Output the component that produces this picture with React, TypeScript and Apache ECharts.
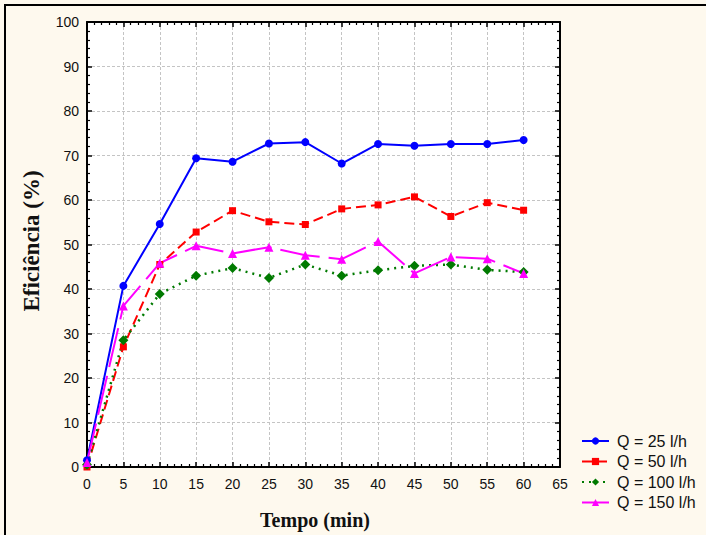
import React, { useEffect, useRef } from "react";
import * as echarts from "echarts";

const tempo = [0, 5, 10, 15, 20, 25, 30, 35, 40, 45, 50, 55, 60];
const q25 = [1.5, 40.7, 54.6, 69.4, 68.6, 72.7, 73.0, 68.2, 72.6, 72.2, 72.6, 72.6, 73.5];
const q50 = [0, 27.0, 45.5, 52.8, 57.6, 55.1, 54.5, 58.0, 58.9, 60.7, 56.3, 59.4, 57.7];
const q100 = [0.5, 28.5, 38.9, 43.0, 44.7, 42.5, 45.5, 43.0, 44.2, 45.2, 45.5, 44.3, 43.8];
const q150 = [1.0, 36.2, 45.8, 49.7, 48.0, 49.4, 47.6, 46.7, 50.7, 43.5, 47.2, 46.8, 43.5];
const seriesNames = ["Q = 25 l/h", "Q = 50 l/h", "Q = 100 l/h", "Q = 150 l/h"];

const pairs = (ys: number[]) => tempo.map((t, i) => [t, ys[i]]);

export default function App() {
  const ref = useRef<HTMLDivElement>(null);
  useEffect(() => {
    if (!ref.current) return;
    const chart = echarts.init(ref.current, null, { renderer: "svg" });
    const sans = "Liberation Sans, Arial, sans-serif";
    const serif = "Liberation Serif, Times New Roman, serif";
    const tickCommon = {
      axisLine: { show: true, onZero: false, lineStyle: { color: "#000", width: 2 } },
      axisTick: { show: true, inside: true, length: 5, lineStyle: { color: "#000", width: 1.5 } },
      minorTick: { show: true, splitNumber: 5, length: 3, lineStyle: { color: "#000", width: 1.2 } },
    };
    chart.setOption({
      animation: false,
      backgroundColor: "#FEF9EE",
      grid: { left: 87, top: 22, right: 146, bottom: 68, show: true, backgroundColor: "#fff", borderWidth: 0 },
      xAxis: [
        {
          type: "value", min: 0, max: 65, interval: 5, position: "bottom",
          ...tickCommon,
          axisLabel: { color: "#111", fontFamily: sans, fontSize: 14, margin: 10 },
          splitLine: { show: true, lineStyle: { color: "#c4c4c4", type: [3, 2], width: 1 } },
        },
        {
          type: "value", min: 0, max: 65, interval: 5, position: "top",
          ...tickCommon,
          axisLabel: { show: false },
          splitLine: { show: false },
        },
      ],
      yAxis: [
        {
          type: "value", min: 0, max: 100, interval: 10, position: "left",
          ...tickCommon,
          axisLabel: { color: "#111", fontFamily: sans, fontSize: 14, margin: 8 },
          splitLine: { show: true, lineStyle: { color: "#c4c4c4", type: [3, 2], width: 1 } },
        },
        {
          type: "value", min: 0, max: 100, interval: 10, position: "right",
          ...tickCommon,
          axisLabel: { show: false },
          splitLine: { show: false },
        },
      ],
      legend: {
        orient: "vertical",
        left: 576,
        top: 428,
        itemWidth: 27,
        itemHeight: 9,
        itemGap: 4.5,
        textStyle: { color: "#111", fontFamily: sans, fontSize: 16, padding: [0, 0, 0, 3] },
        data: seriesNames,
      },
      series: [
        {
          name: seriesNames[0], type: "line", data: pairs(q25),
          symbol: "circle", symbolSize: 8, color: "#0000FF",
          lineStyle: { color: "#0000FF", width: 2 },
          itemStyle: { color: "#0000FF" },
        },
        {
          name: seriesNames[1], type: "line", data: pairs(q50),
          symbol: "rect", symbolSize: 7, color: "#FF0000",
          lineStyle: { color: "#FF0000", width: 2, type: [10, 5] },
          itemStyle: { color: "#FF0000" },
        },
        {
          name: seriesNames[2], type: "line", data: pairs(q100),
          symbol: "diamond", symbolSize: 10, color: "#007A00",
          lineStyle: { color: "#007A00", width: 2.5, type: [2, 5] },
          itemStyle: { color: "#007A00" },
        },
        {
          name: seriesNames[3], type: "line", data: pairs(q150),
          symbol: "triangle", symbolSize: 9, color: "#FF00FF",
          lineStyle: { color: "#FF00FF", width: 2, type: [40, 9] },
          itemStyle: { color: "#FF00FF" },
        },
      ],
      graphic: [
        {
          type: "rect", shape: { x: 5, y: 5, width: 800, height: 700 },
          style: { fill: "none", stroke: "#000", lineWidth: 2 }, silent: true, z: 100,
        },
        {
          type: "text", x: 31, y: 241, rotation: Math.PI / 2,
          style: {
            text: "Eficiência (%)", fontFamily: serif, fontWeight: "bold", fontSize: 23,
            fill: "#111", align: "center", verticalAlign: "middle",
          },
        },
        {
          type: "text", x: 315, y: 520,
          style: {
            text: "Tempo (min)", fontFamily: serif, fontWeight: "bold", fontSize: 20,
            fill: "#111", align: "center", verticalAlign: "middle",
          },
        },
      ],
    });
    return () => chart.dispose();
  }, []);
  return (
    <div
      ref={ref}
      style={{ position: "fixed", left: 0, top: 0, width: 706, height: 535 }}
    />
  );
}
